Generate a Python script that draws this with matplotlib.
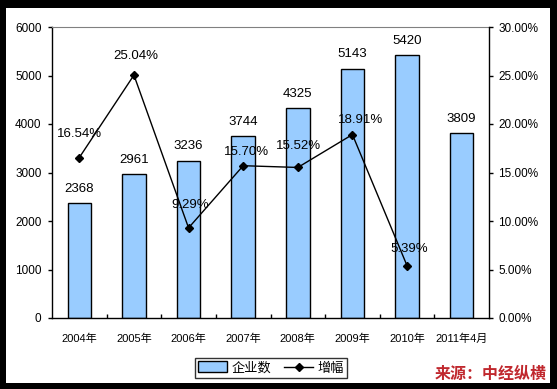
import matplotlib.pyplot as plt
import numpy as np
from matplotlib.patches import Rectangle
from matplotlib.lines import Line2D

plt.rcParams['font.family'] = ['Liberation Sans', 'Noto Sans CJK SC']

# data
years = ['2004年', '2005年', '2006年', '2007年', '2008年', '2009年', '2010年', '2011年4月']
companies = [2368, 2961, 3236, 3744, 4325, 5143, 5420, 3809]
growth = [16.54, 25.04, 9.29, 15.70, 15.52, 18.91, 5.39]
# label offsets for growth labels (pixels)
growth_offsets = [(0, 24), (2, 19), (2, 23), (3, 14), (1, 21), (8, 15), (2, 17)]

W, H = 557, 389
fig = plt.figure(figsize=(W / 100, H / 100), dpi=100, facecolor='black')
# white inner frame
fig.patches.append(Rectangle((6 / W, 6 / H), (550 - 6) / W, (381 - 6) / H,
                             transform=fig.transFigure, facecolor='white',
                             edgecolor='none', zorder=-5))

ax = fig.add_axes([52 / W, (H - 318) / H, (489 - 52) / W, (318 - 27) / H])
ax.set_facecolor('white')
x = np.arange(len(years))
ax.bar(x, companies, width=0.43, color='#99ccff', edgecolor='black', linewidth=1, zorder=2)
for xi, v in zip(x, companies):
    ax.annotate(str(v), (xi, v), xytext=(0, 10.5), textcoords='offset points',
                ha='center', va='center', fontsize=9.5, zorder=5)
ax.set_xlim(-0.5, len(years) - 0.5)
ax.set_ylim(0, 6000)
ax.set_yticks(range(0, 6001, 1000))
ax.set_xticks(x)
ax.set_xticklabels(years, fontsize=8)
ax.set_xticks(np.arange(0.5, len(years) - 0.5), minor=True)
ax.tick_params(axis='x', which='major', length=0, pad=11)
ax.tick_params(axis='x', which='minor', direction='in', length=3, width=1)
ax.tick_params(axis='y', length=3, width=1, labelsize=8.5, pad=4.5)
ax.spines['top'].set_color('#808080')
ax.spines['right'].set_visible(False)
for s in ['left', 'bottom']:
    ax.spines[s].set_linewidth(1)

ax2 = ax.twinx()
ax2.plot(x[:len(growth)], growth, color='black', linewidth=1, marker='D',
         markersize=4.5, zorder=4)
for xi, g, (dx, dy) in zip(x, growth, growth_offsets):
    ax2.annotate('%.2f%%' % g, (xi, g), xytext=(dx * 0.72, dy * 0.72),
                 textcoords='offset points', ha='center', va='center', fontsize=9.5)
ax2.set_ylim(0, 30)
ax2.set_yticks(range(0, 31, 5))
ax2.set_yticklabels(['%.2f%%' % t for t in range(0, 31, 5)])
ax2.tick_params(axis='y', length=3, width=1, labelsize=8.5, pad=3.6)
ax2.spines['top'].set_visible(False)
ax2.spines['left'].set_visible(False)
ax2.spines['bottom'].set_visible(False)
ax2.spines['right'].set_linewidth(1)

handles = [Rectangle((0, 0), 1, 1, facecolor='#99ccff', edgecolor='black', linewidth=1),
           Line2D([], [], color='black', linewidth=1, marker='D', markersize=4.5)]
leg = fig.legend(handles, ['企业数', '增幅'], loc='center', bbox_to_anchor=(271 / W, (H - 368) / H),
                 ncol=2, frameon=True, fancybox=False, fontsize=9.5, handlelength=2.2,
                 handleheight=0.9, handletextpad=0.3, columnspacing=1.0,
                 borderpad=0.25, borderaxespad=0)
leg.get_frame().set_edgecolor('black')
leg.get_frame().set_linewidth(1)

fig.text(547 / W, (H - 374) / H, '来源：中经纵横', color='#c0272d', fontsize=11.5,
         fontweight='bold', ha='right', va='center', family='Noto Sans CJK SC')

fig.savefig('out.png', dpi=100, facecolor='black')
